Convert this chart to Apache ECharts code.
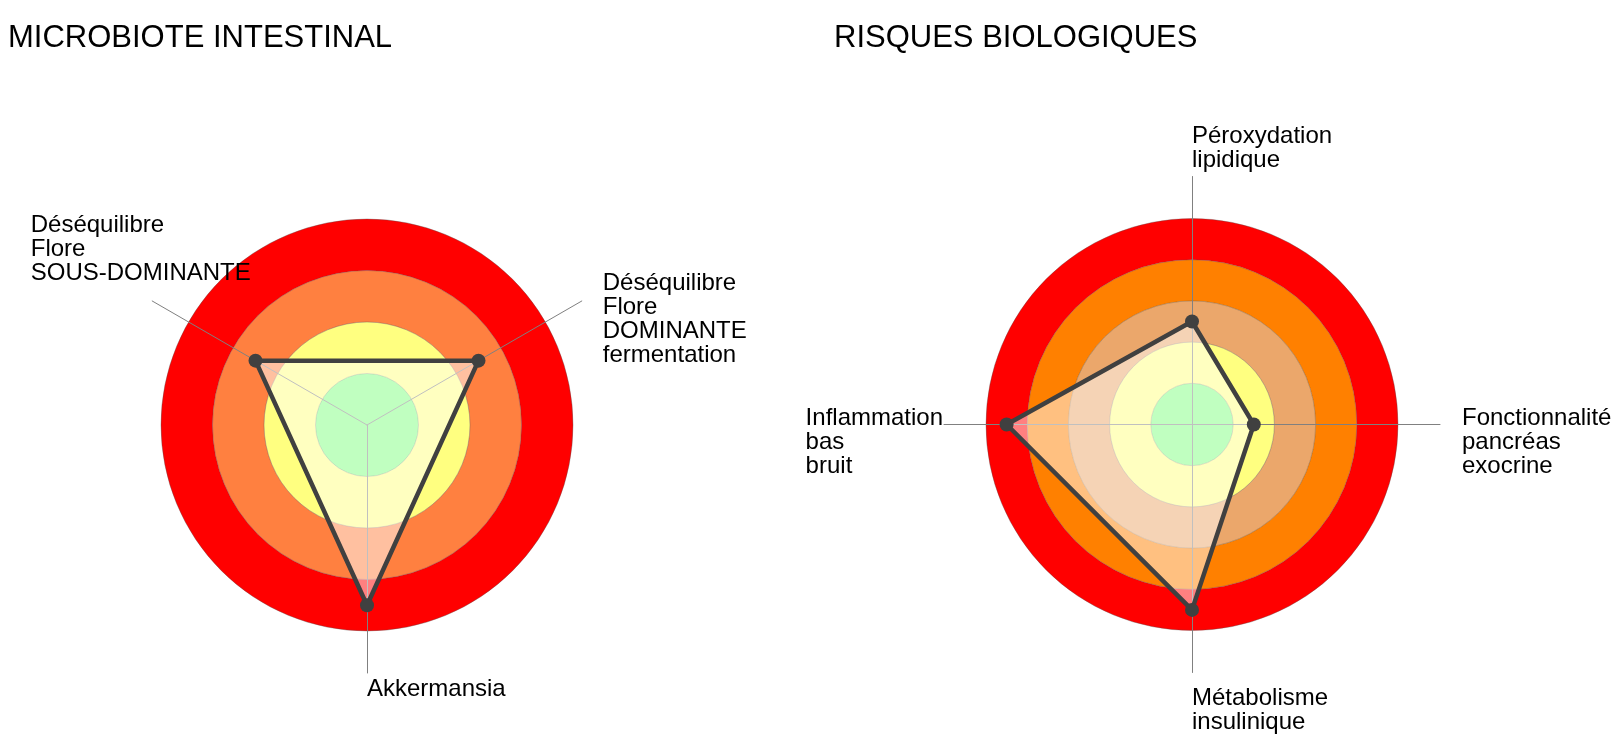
<!DOCTYPE html>
<html>
<head>
<meta charset="utf-8">
<title>Microbiote intestinal - Risques biologiques</title>
<script src="https://cdn.jsdelivr.net/npm/echarts@6/dist/echarts.min.js"></script>
<style>
  html, body { margin: 0; padding: 0; background: #fff; }
  #main { width: 1624px; height: 746px; }
</style>
</head>
<body>
<div id="main"></div>
<script>
// donnees
const gutIndicators = ['Déséquilibre\nFlore\nDOMINANTE\nfermentation', 'Déséquilibre\nFlore\nSOUS-DOMINANTE', 'Akkermansia'];
const gutValues = [2.5, 2.5, 3.5];
const gutMax = 4;

const riskIndicators = ['Péroxydation\nlipidique', 'Inflammation\nbas\nbruit', 'Métabolisme\ninsulinique', 'Fonctionnalité\npancréas\nexocrine'];
const riskValues = [2.5, 4.5, 4.5, 1.5];
const riskMax = 5;

// couleurs des zones, du centre vers l'exterieur
const gutZones = ['#80ff80', '#ffff80', '#ff8040', '#ff0000'];
const riskZones = ['#80ff80', '#ffff80', '#eba76b', '#ff8000', '#ff0000'];

// placement des libelles : align, verticalAlign, padding
const gutNamePos = [
  ['left', 'middle', [37, 0, 0, 21]],
  ['center', 'bottom', [0, 23, 16, 0]],
  ['left', 'top', [4, 0, 0, 0]]
];
const riskNamePos = [
  ['left', 'bottom', [0, 0, 4, 0]],
  ['right', 'middle', [36, 1, 0, 0]],
  ['left', 'top', [14, 0, 0, 0]],
  ['left', 'middle', [36, 0, 0, 22]]
];

const FONT = 'Liberation Sans, Arial, sans-serif';

function zoneRadar(center, startAngle, names, max, zones) {
  return {
    center: center,
    radius: 206,
    startAngle: startAngle,
    shape: 'circle',
    splitNumber: zones.length,
    indicator: names.map(function (n) { return { name: n, min: 0, max: max }; }),
    axisName: { show: false },
    axisLine: { show: false },
    axisTick: { show: false },
    axisLabel: { show: false },
    splitLine: { lineStyle: { color: 'rgba(80,80,80,0.45)', width: 0.8 } },
    splitArea: { show: true, areaStyle: { color: zones } }
  };
}

function axisRadar(center, startAngle, names, max, pos) {
  return {
    z: 1,
    center: center,
    radius: 248,
    startAngle: startAngle,
    shape: 'circle',
    splitNumber: 1,
    indicator: names.map(function (n, i) {
      return {
        name: n, min: 0, max: max,
        nameTextStyle: { align: pos[i][0], verticalAlign: pos[i][1], padding: pos[i][2] }
      };
    }),
    axisNameGap: 0,
    axisName: {
      color: '#000',
      fontFamily: FONT,
      fontSize: 24,
      lineHeight: 24,
      formatter: function (name) { return '{t|' + name + '}'; },
      rich: {
        t: { align: 'left', color: '#000', fontFamily: FONT, fontSize: 24, lineHeight: 24 }
      }
    },
    axisLine: { show: true, lineStyle: { color: '#808080', width: 1 } },
    axisTick: { show: false },
    axisLabel: { show: false },
    splitLine: { show: false },
    splitArea: { show: false }
  };
}

const chart = echarts.init(document.getElementById('main'), null, { renderer: 'canvas' });

const titleStyle = { color: '#000', fontFamily: FONT, fontSize: 31, fontWeight: 'normal' };

// surface voilee (dessous) puis contour + points (dessus)
function areaSeries(radarIndex, values) {
  return {
    type: 'radar', radarIndex: radarIndex, z: 3, silent: true,
    symbol: 'none',
    lineStyle: { width: 0, opacity: 0 },
    areaStyle: { color: '#ffffff', opacity: 0.5 },
    data: [{ value: values }]
  };
}
function lineSeries(radarIndex, values) {
  return {
    type: 'radar', radarIndex: radarIndex, z: 4,
    symbol: 'circle', symbolSize: 14,
    lineStyle: { color: '#404040', width: 4.5, opacity: 1 },
    itemStyle: { color: '#404040' },
    data: [{ value: values }]
  };
}

const option = {
  animation: false,
  backgroundColor: '#fff',
  title: [
    { text: 'MICROBIOTE INTESTINAL', left: 8, top: 23, padding: 0, textStyle: titleStyle },
    { text: 'RISQUES BIOLOGIQUES', left: 834, top: 23, padding: 0, textStyle: titleStyle }
  ],
  radar: [
    zoneRadar([367, 425], 30, gutIndicators, gutMax, gutZones),
    axisRadar([367, 425], 30, gutIndicators, gutMax, gutNamePos),
    zoneRadar([1192, 424.5], 90, riskIndicators, riskMax, riskZones),
    axisRadar([1192, 424.5], 90, riskIndicators, riskMax, riskNamePos)
  ],
  series: [
    areaSeries(0, gutValues),
    lineSeries(0, gutValues),
    areaSeries(2, riskValues),
    lineSeries(2, riskValues)
  ]
};

chart.setOption(option);
</script>
</body>
</html>
